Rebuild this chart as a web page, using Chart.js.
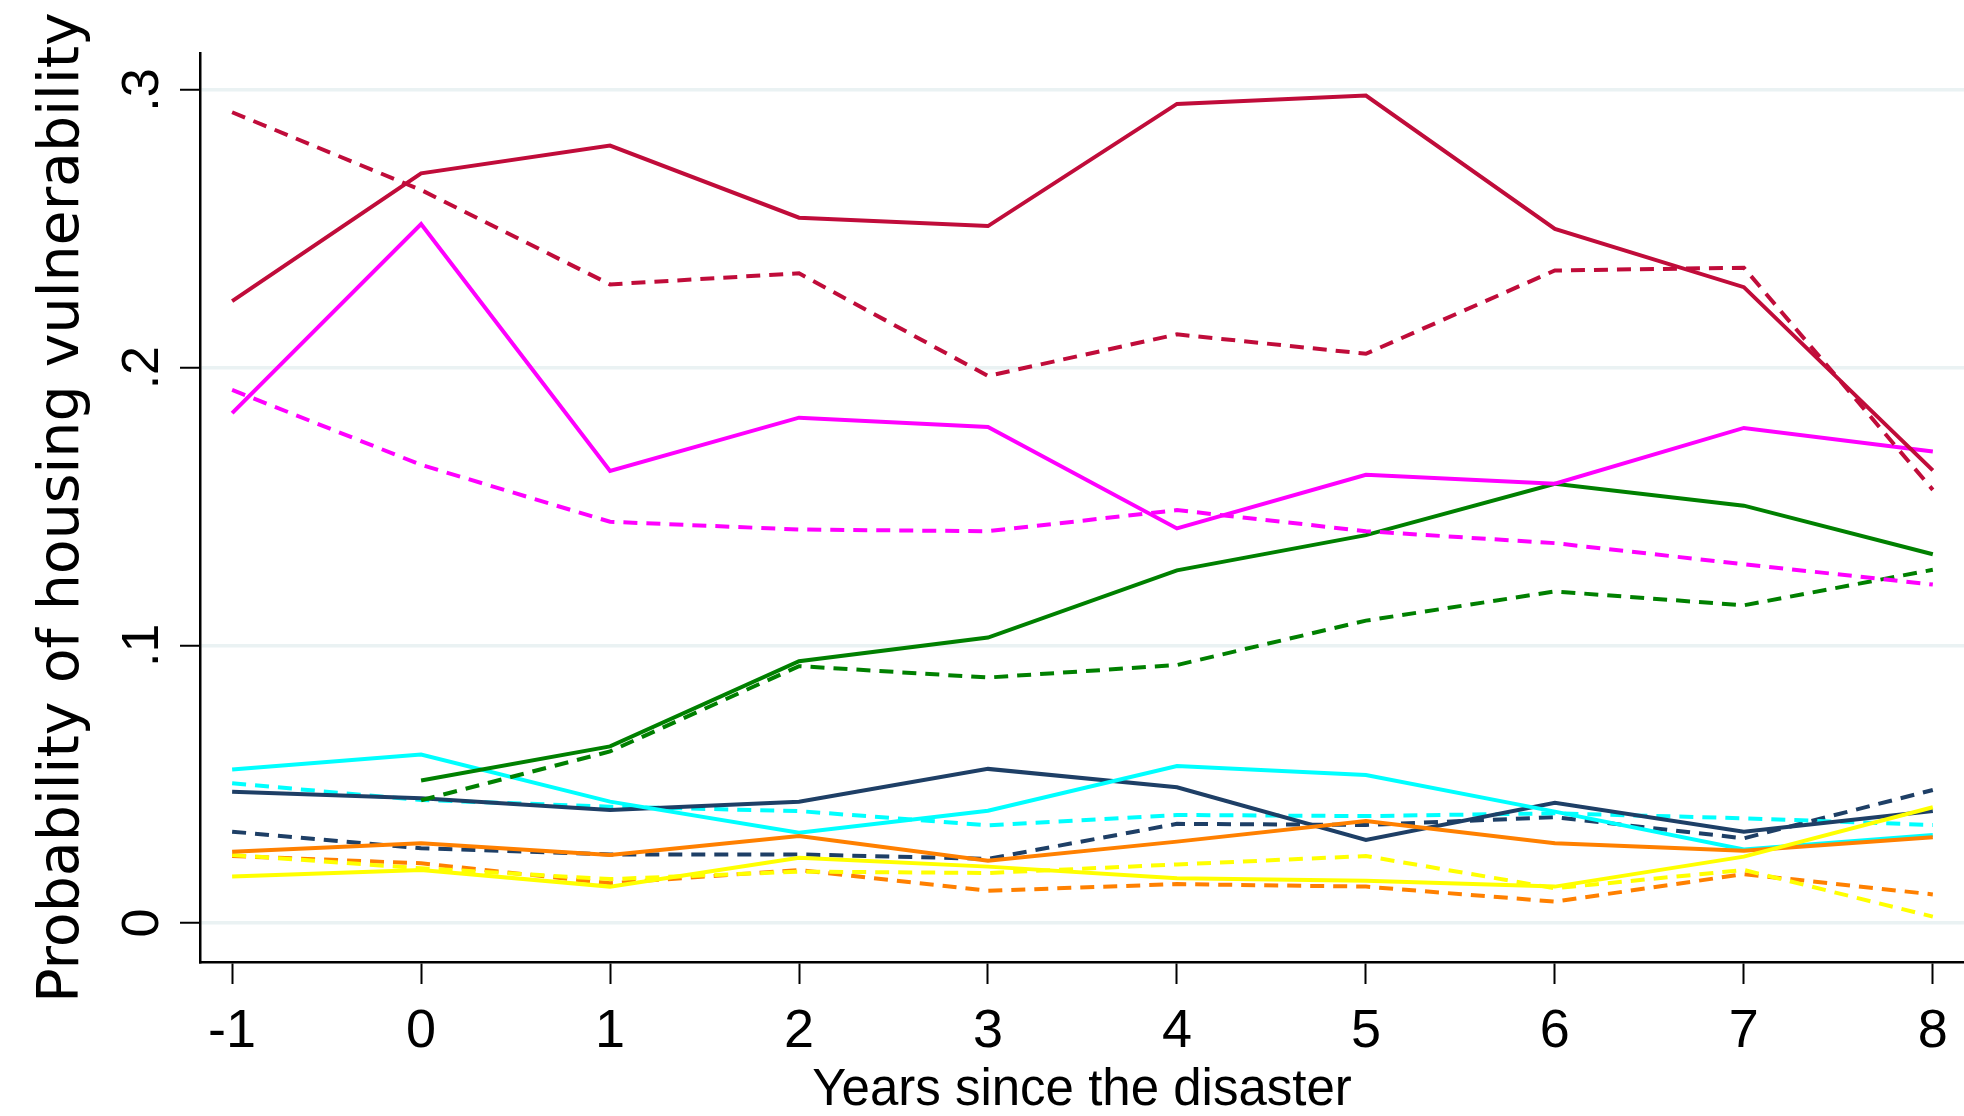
<!DOCTYPE html>
<html>
<head>
<meta charset="utf-8">
<title>Probability of housing vulnerability</title>
<script src="https://cdn.jsdelivr.net/npm/chart.js@4.4.1/dist/chart.umd.min.js"></script>
<style>
  html, body { margin: 0; padding: 0; background: #fff; }
  #wrap { width: 1964px; height: 1116px; }
</style>
</head>
<body>
<div id="wrap"><canvas id="vuln-chart"></canvas></div>
<script>
// years on the x axis
var years = [-1, 0, 1, 2, 3, 4, 5, 6, 7, 8];
var yTicks = [0, 0.1, 0.2, 0.3];
var yTickLabels = ["0", ".1", ".2", ".3"];

// series values, one per year (null = no value)
var redSolid     = [0.224, 0.270, 0.280, 0.254, 0.251, 0.295, 0.298, 0.250, 0.229, 0.163];
var redDash      = [0.292, 0.264, 0.230, 0.234, 0.197, 0.212, 0.205, 0.235, 0.236, 0.156];
var magentaSolid = [0.1836, 0.2517, 0.1628, 0.1820, 0.1786, 0.1421, 0.1614, 0.1582, 0.1783, 0.1698];
var magentaDash  = [0.1920, 0.1650, 0.1445, 0.1417, 0.1411, 0.1487, 0.1411, 0.1368, 0.1292, 0.1219];
var greenSolid   = [null, 0.0513, 0.0636, 0.0943, 0.1028, 0.1270, 0.1397, 0.1582, 0.1503, 0.1328];
var greenDash    = [null, 0.0442, 0.0618, 0.0925, 0.0884, 0.0929, 0.1089, 0.1194, 0.1144, 0.1272];
var cyanSolid    = [0.0553, 0.0607, 0.0437, 0.0325, 0.0404, 0.0565, 0.0533, 0.0401, 0.0265, 0.0317];
var cyanDash     = [0.0503, 0.0443, 0.0419, 0.0403, 0.0352, 0.0389, 0.0385, 0.0395, 0.0377, 0.0353];
var navySolid    = [0.0473, 0.0449, 0.0407, 0.0437, 0.0555, 0.0489, 0.0299, 0.0433, 0.0329, 0.0403];
var navyDash     = [0.0329, 0.0269, 0.0247, 0.0247, 0.0231, 0.0357, 0.0353, 0.0381, 0.0305, 0.0479];
var orangeSolid  = [0.0257, 0.0287, 0.0245, 0.0313, 0.0224, 0.0293, 0.0367, 0.0287, 0.0260, 0.0309];
var orangeDash   = [0.0241, 0.0215, 0.0143, 0.0191, 0.0116, 0.0140, 0.0131, 0.0077, 0.0176, 0.0103];
var yellowSolid  = [0.0167, 0.0191, 0.0131, 0.0235, 0.0203, 0.0161, 0.0152, 0.0131, 0.0239, 0.0417];
var yellowDash   = [0.0245, 0.0197, 0.0158, 0.0185, 0.0180, 0.0211, 0.0241, 0.0125, 0.0191, 0.0023];

function pts(vals) {
    return years.map(function (yr, i) { return { x: yr, y: vals[i] }; });
}

function line(label, vals, color, dashed) {
    return {
        label: label,
        data: pts(vals),
        borderColor: color,
        backgroundColor: color,
        borderWidth: 4,
        borderDash: dashed ? [14, 9] : [],
        pointRadius: 0,
        tension: 0,
        fill: false,
        spanGaps: false
    };
}

var sans = "'Liberation Sans', Arial, sans-serif";

// Chart Data
var chartData = {
    datasets: [
        line("red solid", redSolid, "#C00C3A", false),
        line("red dashed", redDash, "#C00C3A", true),
        line("magenta solid", magentaSolid, "#FF00FF", false),
        line("magenta dashed", magentaDash, "#FF00FF", true),
        line("green solid", greenSolid, "#008000", false),
        line("green dashed", greenDash, "#008000", true),
        line("yellow solid", yellowSolid, "#FFFF00", false),
        line("orange solid", orangeSolid, "#FF8000", false),
        line("cyan solid", cyanSolid, "#00FFFF", false),
        line("navy solid", navySolid, "#1E3F66", false),
        line("yellow dashed", yellowDash, "#FFFF00", true),
        line("orange dashed", orangeDash, "#FF8000", true),
        line("cyan dashed", cyanDash, "#00FFFF", true),
        line("navy dashed", navyDash, "#1E3F66", true)
    ]
};

// Chart Options
var chartOptions = {
    responsive: true,
    maintainAspectRatio: false,
    animation: false,
    devicePixelRatio: 1,
    layout: { padding: { top: 53, left: 0, right: 0, bottom: 0 } },
    plugins: {
        legend: { display: false },
        tooltip: { enabled: false }
    },
    scales: {
        x: {
            type: 'linear',
            min: -1.17,
            max: 8.165,
            afterBuildTicks: function (scale) {
                scale.ticks = years.map(function (v) { return { value: v }; });
            },
            afterFit: function (scale) { scale.height = 154; },
            grid: {
                drawOnChartArea: false,
                drawTicks: true,
                tickLength: 22,
                tickColor: '#000',
                tickWidth: 2
            },
            border: { display: true, color: '#000', width: 2.5 },
            ticks: {
                color: '#000',
                padding: 16,
                maxRotation: 0,
                minRotation: 0,
                font: { family: sans, size: 54 },
                callback: function (v) { return String(v); }
            },
            title: {
                display: true,
                text: 'Years since the disaster',
                color: '#000',
                font: { family: sans, size: 51, lineHeight: 1 },
                padding: { top: 0, bottom: 0 }
            }
        },
        y: {
            type: 'linear',
            min: -0.01405,
            max: 0.31333,
            afterBuildTicks: function (scale) {
                scale.ticks = yTicks.map(function (v) { return { value: v }; });
            },
            afterFit: function (scale) { scale.width = 200; },
            grid: {
                color: '#EAF2F3',
                lineWidth: 3.5,
                drawTicks: true,
                tickLength: 20,
                tickColor: '#000',
                tickWidth: 2
            },
            border: { display: true, color: '#000', width: 2.5 },
            ticks: {
                color: '#000',
                padding: 15,
                minRotation: 90,
                maxRotation: 90,
                crossAlign: 'center',
                font: { family: sans, size: 52 },
                callback: function (v, i) { return yTickLabels[i]; }
            },
            title: {
                display: true,
                text: 'Probability of housing vulnerability',
                color: '#000',
                font: { family: "'DejaVu Sans', sans-serif", size: 57, lineHeight: 1 },
                padding: { top: 35, bottom: 0 }
            }
        }
    }
};

var config = {
    type: 'line',
    options: chartOptions,
    data: chartData
};

var ctx = document.getElementById('vuln-chart');
var vulnChart = new Chart(ctx, config);
</script>
</body>
</html>
